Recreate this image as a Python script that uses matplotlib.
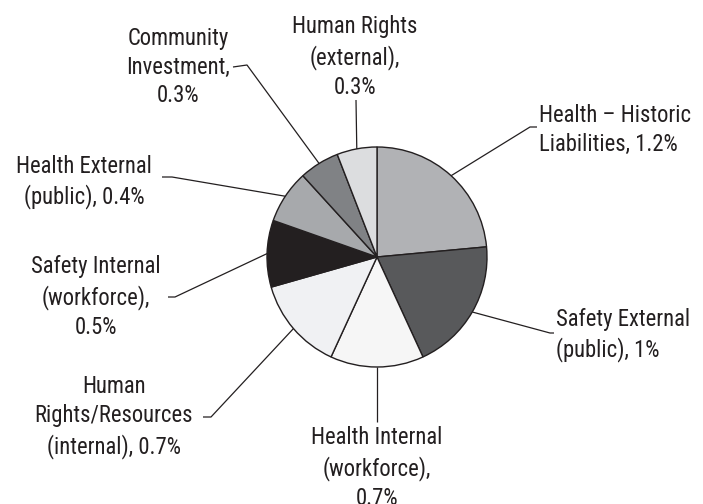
import matplotlib
matplotlib.use("Agg")
import matplotlib.pyplot as plt
from matplotlib import font_manager
import numpy as np

# ---- data ----
labels = ["Health \u2013 Historic\nLiabilities, 1.2%",
          "Safety External\n(public), 1%",
          "Health Internal\n(workforce),\n0.7%",
          "Human\nRights/Resources\n(internal), 0.7%",
          "Safety Internal\n(workforce),\n0.5%",
          "Health External\n(public), 0.4%",
          "Community\nInvestment,\n0.3%",
          "Human Rights\n(external),\n0.3%"]
values = [1.2, 1.0, 0.7, 0.7, 0.5, 0.4, 0.3, 0.3]
colors = ["#b1b2b5", "#58595b", "#f6f6f6", "#f0f1f3",
          "#231f20", "#a7a9ac", "#808285", "#dcdddf"]

names = {f.name for f in font_manager.fontManager.ttflist}
family = "Liberation Sans"
for cand in ["Liberation Sans Narrow", "Roboto Condensed", "Archivo Narrow",
             "PT Sans Narrow", "Barlow Semi Condensed"]:
    if cand in names:
        family = cand
        break
fsize = 16.3 if family != "Liberation Sans" else 13.5
TXT = "#231f20"

W, H = 703, 504
fig = plt.figure(figsize=(W / 100, H / 100), dpi=100)
ax = fig.add_axes([0, 0, 1, 1])

def Y(y):
    return H - y

cx, cy, R = 377, Y(257), 110
wedges, _ = ax.pie(values, colors=colors, startangle=90, counterclock=False,
                   center=(cx, cy), radius=R,
                   wedgeprops=dict(edgecolor="#231f20", linewidth=1.0))
ax.set_xlim(0, W)
ax.set_ylim(0, H)
ax.set_aspect("equal")
ax.axis("off")

# label layout: (elbow point, end point, text x, text y, ha)
layout = [
    ((530, 127), (537, 127), 539, 130, "left"),
    ((550, 333), (554, 333), 556, 335, "left"),
    ((377, 422), (377, 422), 377, 468, "center"),
    ((211, 417), (203, 417), 114, 417, "center"),
    ((175, 297), (168, 297), 96, 297, "center"),
    ((172, 177), (162, 177), 84, 182, "center"),
    ((247, 65), (233, 67), 178, 67, "center"),
    ((356, 100), (356, 100), 355, 57, "center"),
]

for w, lab, (elb, end, tx, ty, ha) in zip(wedges, labels, layout):
    mid = np.deg2rad((w.theta1 + w.theta2) / 2)
    sx, sy = cx + R * np.cos(mid), cy + R * np.sin(mid)
    ax.plot([sx, elb[0], end[0]], [sy, Y(elb[1]), Y(end[1])],
            color=TXT, lw=0.9, solid_capstyle="butt")
    ax.text(tx, Y(ty), lab, ha=ha, va="center",
            multialignment="center" if ha == "center" else "left",
            fontsize=fsize, family=family, color=TXT, linespacing=1.33)

fig.savefig("out.png", dpi=100)
